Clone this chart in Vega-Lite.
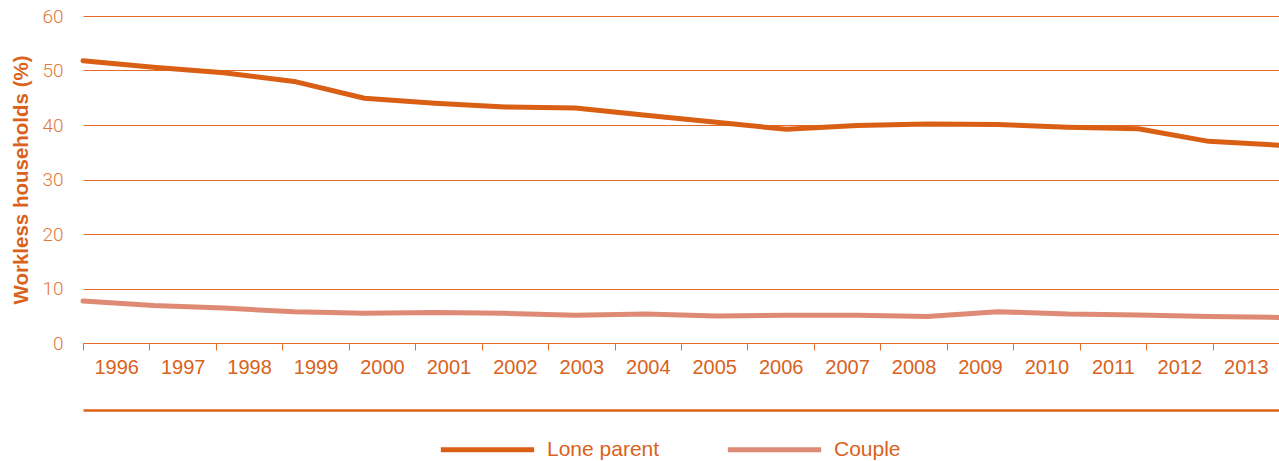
{
  "$schema": "https://vega.github.io/schema/vega-lite/v6.json",
  "width": 1196,
  "height": 327,
  "autosize": {"type": "none"},
  "padding": {"left": 83, "top": 16, "right": 0, "bottom": 118},
  "background": "white",
  "config": {
    "view": {"stroke": null},
    "font": "Liberation Sans"
  },
  "data": {
    "values": [
      {"year": 1996, "series": "Lone parent", "value": 51.8},
      {"year": 1997, "series": "Lone parent", "value": 50.6},
      {"year": 1998, "series": "Lone parent", "value": 49.6},
      {"year": 1999, "series": "Lone parent", "value": 48.0},
      {"year": 2000, "series": "Lone parent", "value": 44.9},
      {"year": 2001, "series": "Lone parent", "value": 44.0},
      {"year": 2002, "series": "Lone parent", "value": 43.3},
      {"year": 2003, "series": "Lone parent", "value": 43.1},
      {"year": 2004, "series": "Lone parent", "value": 41.8},
      {"year": 2005, "series": "Lone parent", "value": 40.5},
      {"year": 2006, "series": "Lone parent", "value": 39.2},
      {"year": 2007, "series": "Lone parent", "value": 39.9},
      {"year": 2008, "series": "Lone parent", "value": 40.2},
      {"year": 2009, "series": "Lone parent", "value": 40.1},
      {"year": 2010, "series": "Lone parent", "value": 39.6},
      {"year": 2011, "series": "Lone parent", "value": 39.3},
      {"year": 2012, "series": "Lone parent", "value": 37.0},
      {"year": 2013, "series": "Lone parent", "value": 36.3},
      {"year": 1996, "series": "Couple", "value": 7.7},
      {"year": 1997, "series": "Couple", "value": 6.9},
      {"year": 1998, "series": "Couple", "value": 6.4},
      {"year": 1999, "series": "Couple", "value": 5.75},
      {"year": 2000, "series": "Couple", "value": 5.45},
      {"year": 2001, "series": "Couple", "value": 5.6},
      {"year": 2002, "series": "Couple", "value": 5.45},
      {"year": 2003, "series": "Couple", "value": 5.1},
      {"year": 2004, "series": "Couple", "value": 5.3},
      {"year": 2005, "series": "Couple", "value": 4.95},
      {"year": 2006, "series": "Couple", "value": 5.1},
      {"year": 2007, "series": "Couple", "value": 5.1},
      {"year": 2008, "series": "Couple", "value": 4.85},
      {"year": 2009, "series": "Couple", "value": 5.75},
      {"year": 2010, "series": "Couple", "value": 5.3},
      {"year": 2011, "series": "Couple", "value": 5.15},
      {"year": 2012, "series": "Couple", "value": 4.85},
      {"year": 2013, "series": "Couple", "value": 4.7}
    ]
  },
  "layer": [
    {
      "mark": {"type": "point", "opacity": 0},
      "encoding": {
        "x": {
          "field": "year",
          "type": "ordinal",
          "scale": {"type": "band", "paddingInner": 0, "paddingOuter": 0},
          "axis": {
            "orient": "bottom",
            "title": null,
            "tickBand": "extent",
            "labelAngle": 0,
            "labelFontSize": 20,
            "labelColor": "#d9621c",
            "labelPadding": 7,
            "tickSize": 7,
            "tickColor": "#e46c28",
            "tickWidth": 1,
            "domainColor": "#e46c28",
            "domainWidth": 1,
            "grid": false
          }
        },
        "y": {"field": "value", "type": "quantitative"}
      }
    },
    {
      "mark": {"type": "line", "strokeWidth": 5, "strokeJoin": "round", "strokeCap": "round"},
      "encoding": {
        "x": {
          "field": "year",
          "type": "quantitative",
          "scale": {"domain": [1996, 2013], "nice": false, "zero": false},
          "axis": {
            "orient": "bottom",
            "offset": 67,
            "title": null,
            "labels": false,
            "ticks": false,
            "grid": false,
            "domainColor": "#dc6218",
            "domainWidth": 2.5
          }
        },
        "y": {
          "field": "value",
          "type": "quantitative",
          "scale": {"domain": [0, 60], "nice": false},
          "axis": {
            "title": "Workless households (%)",
            "titleFontSize": 20.5,
            "titleFontWeight": "bold",
            "titleColor": "#d9621c",
            "titlePadding": 10,
            "values": [0, 10, 20, 30, 40, 50, 60],
            "labelFontSize": 19,
            "labelFont": "Roboto",
            "labelFontWeight": 300,
            "labelColor": "#e0793a",
            "labelPadding": 20,
            "ticks": false,
            "domain": false,
            "grid": true,
            "gridColor": "#e46c28",
            "gridWidth": 1
          }
        },
        "color": {
          "field": "series",
          "type": "nominal",
          "sort": ["Lone parent", "Couple"],
          "scale": {"domain": ["Lone parent", "Couple"], "range": ["#d95f14", "#de8a74"]},
          "legend": {
            "title": null,
            "orient": "none",
            "direction": "horizontal",
            "legendX": 355,
            "legendY": 384,
            "padding": 0,
            "symbolType": "stroke",
            "symbolSize": 8700,
            "symbolStrokeWidth": 5,
            "labelFontSize": 21,
            "labelColor": "#d9621c",
            "labelOffset": 10,
            "columnPadding": 57
          }
        }
      }
    }
  ],
  "resolve": {"scale": {"x": "independent"}, "axis": {"x": "independent"}}
}
